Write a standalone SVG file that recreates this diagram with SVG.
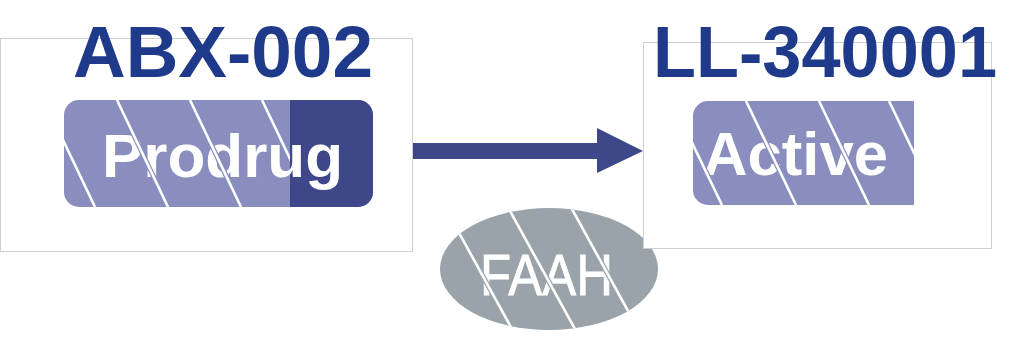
<svg xmlns="http://www.w3.org/2000/svg" width="1015" height="346" viewBox="0 0 1015 346">
<style>
.box{fill:#fff;stroke:#cfcfcf;stroke-width:1}
.title{font-family:"Liberation Sans",Arial,sans-serif;font-weight:bold;fill:#1f3a8b}
.pilltxt{font-family:"Liberation Sans",Arial,sans-serif;font-weight:bold;fill:#fff}
.light{fill:#8a8ebe}
.dark{fill:#3e4789}
.edgeP{stroke:#8a8ebe;stroke-width:5;fill:none}
.edgeG{stroke:#9aa3aa;stroke-width:5;fill:none}
.stripe{stroke:#fff;stroke-width:2.6;fill:none}
</style>
<defs>
<clipPath id="clipProdrug"><rect x="64" y="100" width="309" height="107" rx="15"/></clipPath>
<clipPath id="clipProdrugLight"><path d="M79,100 H290 V207 H79 A15,15 0 0 1 64,192 V115 A15,15 0 0 1 79,100 Z"/></clipPath>
<clipPath id="clipActive"><path d="M708,101 H914 V205 H708 A15,15 0 0 1 693,190 V116 A15,15 0 0 1 708,101 Z"/></clipPath>
<clipPath id="clipFaah"><ellipse cx="549" cy="269" rx="109" ry="61"/></clipPath>
<g id="stripesP"><line x1="44" y1="100" x2="95" y2="207"/><line x1="117" y1="100" x2="168" y2="207"/><line x1="190" y1="100" x2="241" y2="207"/><line x1="262" y1="100" x2="313" y2="207"/></g>
<g id="stripesA"><line x1="672" y1="101" x2="722" y2="205"/><line x1="746" y1="101" x2="796" y2="205"/><line x1="819" y1="101" x2="869" y2="205"/><line x1="889" y1="101" x2="939" y2="205"/></g>
<g id="stripesF"><line x1="441" y1="200" x2="518" y2="340"/><line x1="504" y1="200" x2="581" y2="340"/><line x1="567" y1="200" x2="644" y2="340"/></g>
</defs>

<g id="faah">
<ellipse cx="549" cy="269" rx="109" ry="61" fill="#9aa3aa"/>
<text x="480" y="295" font-family="'Liberation Sans',Arial,sans-serif" font-size="57" fill="#fff" stroke="#fff" stroke-width="0.8" textLength="133" lengthAdjust="spacingAndGlyphs">FAAH</text>
<g clip-path="url(#clipFaah)">
<use href="#stripesF" class="edgeG"/>
<use href="#stripesF" class="stripe"/>
</g>
</g>

<g id="prodrug">
<rect class="box" x="0.5" y="38.5" width="412" height="213"/>
<g clip-path="url(#clipProdrug)">
<rect class="light" x="64" y="100" width="309" height="107"/>
<rect class="dark" x="290" y="100" width="83" height="107"/>
</g>
<text class="pilltxt" x="102" y="177" font-size="62" textLength="241" lengthAdjust="spacingAndGlyphs">Prodrug</text>
<g clip-path="url(#clipProdrugLight)">
<use href="#stripesP" class="edgeP"/>
<use href="#stripesP" class="stripe"/>
</g>
<text class="title" x="73" y="77" font-size="73" textLength="300" lengthAdjust="spacingAndGlyphs">ABX-002</text>
</g>

<g id="active">
<rect class="box" x="643.5" y="42.5" width="348" height="206"/>
<g clip-path="url(#clipActive)">
<rect class="light" x="693" y="101" width="221" height="104"/>
</g>
<text class="pilltxt" x="703" y="175" font-size="62" textLength="185" lengthAdjust="spacingAndGlyphs">Active</text>
<g clip-path="url(#clipActive)">
<use href="#stripesA" class="edgeP"/>
<use href="#stripesA" class="stripe"/>
</g>
<text class="title" x="653" y="77" font-size="72" textLength="344" lengthAdjust="spacingAndGlyphs">LL-340001</text>
</g>

<g id="connectors">
<path class="dark" d="M413,143 H597 V128 L643,151 L597,173 V159 H413 Z"/>
</g>
</svg>
